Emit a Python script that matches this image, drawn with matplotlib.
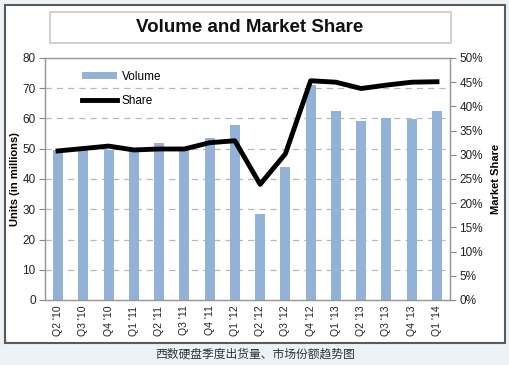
import matplotlib
matplotlib.use("Agg")
import matplotlib.pyplot as plt
from matplotlib.patches import Rectangle, FancyBboxPatch
from matplotlib.lines import Line2D

plt.rcParams['font.family'] = ['Liberation Sans', 'Noto Sans CJK SC', 'DejaVu Sans']

quarters = ["Q2 '10", "Q3 '10", "Q4 '10", "Q1 '11", "Q2 '11", "Q3 '11", "Q4 '11", "Q1 '12",
            "Q2 '12", "Q3 '12", "Q4 '12", "Q1 '13", "Q2 '13", "Q3 '13", "Q4 '13", "Q1 '14"]
volume = [49.7, 49.5, 49.5, 49.5, 52.0, 49.5, 53.7, 57.8, 28.4, 44.0, 71.0, 62.4, 59.1, 60.2, 59.9, 62.5]
share = [30.8, 31.3, 31.8, 31.0, 31.2, 31.2, 32.5, 32.9, 23.9, 30.2, 45.3, 45.0, 43.7, 44.4, 45.0, 45.1]
left_ticks = [0, 10, 20, 30, 40, 50, 60, 70, 80]
right_ticks = [0, 5, 10, 15, 20, 25, 30, 35, 40, 45, 50]

W, H = 510, 365
fig = plt.figure(figsize=(W / 100, H / 100), dpi=100)
fig.patch.set_facecolor('#edf2f7')

def fx(px):
    return px / W

def fy(py):
    return 1 - py / H

# outer white frame
frame = Rectangle((fx(5), fy(343)), fx(500), (338) / H, transform=fig.transFigure,
                  facecolor='white', edgecolor='#5a5a5a', linewidth=1.5, zorder=-10)
fig.patches.append(frame)

# title box
tbox = FancyBboxPatch((fx(50), fy(43)), fx(401), 31 / H, boxstyle='square,pad=0',
                      transform=fig.transFigure, facecolor='white', edgecolor='#c8c8c8',
                      linewidth=1.2, zorder=-5)
fig.patches.append(tbox)
fig.text(fx(250), fy(28), "Volume and Market Share", ha='center', va='center',
         fontsize=13.5, fontweight='bold', color='#111111')

ax = fig.add_axes([fx(45.4), fy(300), fx(449.6 - 45.4), 242 / H])
ax.set_facecolor('none')
x = list(range(len(quarters)))
ax.bar(x, volume, width=0.4, color='#93b2d8', zorder=2, label='Volume')
ax.set_xlim(-0.5, len(quarters) - 0.5)
ax.set_ylim(0, 80)
ax.set_yticks(left_ticks)
ax.set_yticklabels([str(v) for v in left_ticks], fontsize=8.5, color='#222222')
ax.set_xticks(x)
ax.set_xticklabels(quarters, rotation=90, fontsize=7.5, color='#222222')
ax.tick_params(axis='x', length=0, pad=4)
ax.tick_params(axis='y', length=4, color='#888888', pad=3)
for v in left_ticks[1:-1]:
    ax.axhline(v, color='#b8b8b8', linestyle=(0, (5, 4)), linewidth=0.9, zorder=1)
for s in ['left', 'right', 'top', 'bottom']:
    ax.spines[s].set_color('#999999')
    ax.spines[s].set_linewidth(1.0)
ax.set_ylabel("Units (in millions)", fontsize=8, fontweight='bold', labelpad=2)

ax2 = ax.twinx()
ax2.plot(x, share, color='black', linewidth=3.5, solid_joinstyle='round', zorder=3, label='Share')
ax2.set_ylim(0, 50)
ax2.set_yticks(right_ticks)
ax2.set_yticklabels([f"{v}%" for v in right_ticks], fontsize=8.5, color='#222222')
ax2.tick_params(axis='y', length=4, color='#888888', pad=3)
for s in ['left', 'right', 'top', 'bottom']:
    ax2.spines[s].set_color('#999999')
ax2.set_ylabel("Market Share", fontsize=8, fontweight='bold', labelpad=6)

handles = [Rectangle((0, 0), 1, 1, facecolor='#93b2d8', edgecolor='none'),
           Line2D([0], [0], color='black', linewidth=3.5)]
leg = ax2.legend(handles, ['Volume', 'Share'], loc='upper left', bbox_to_anchor=(0.065, 0.99),
                 frameon=False, fontsize=8.5, handlelength=2.9, handleheight=0.5,
                 labelspacing=1.0, handletextpad=0.45)

fig.text(fx(255), fy(354), "西数硬盘季度出货量、市场份额趋势图", ha='center', va='center',
         fontsize=8.5, color='#333333', family=['Noto Sans CJK SC', 'DejaVu Sans'])

fig.savefig("out.png", dpi=100, facecolor=fig.get_facecolor())
